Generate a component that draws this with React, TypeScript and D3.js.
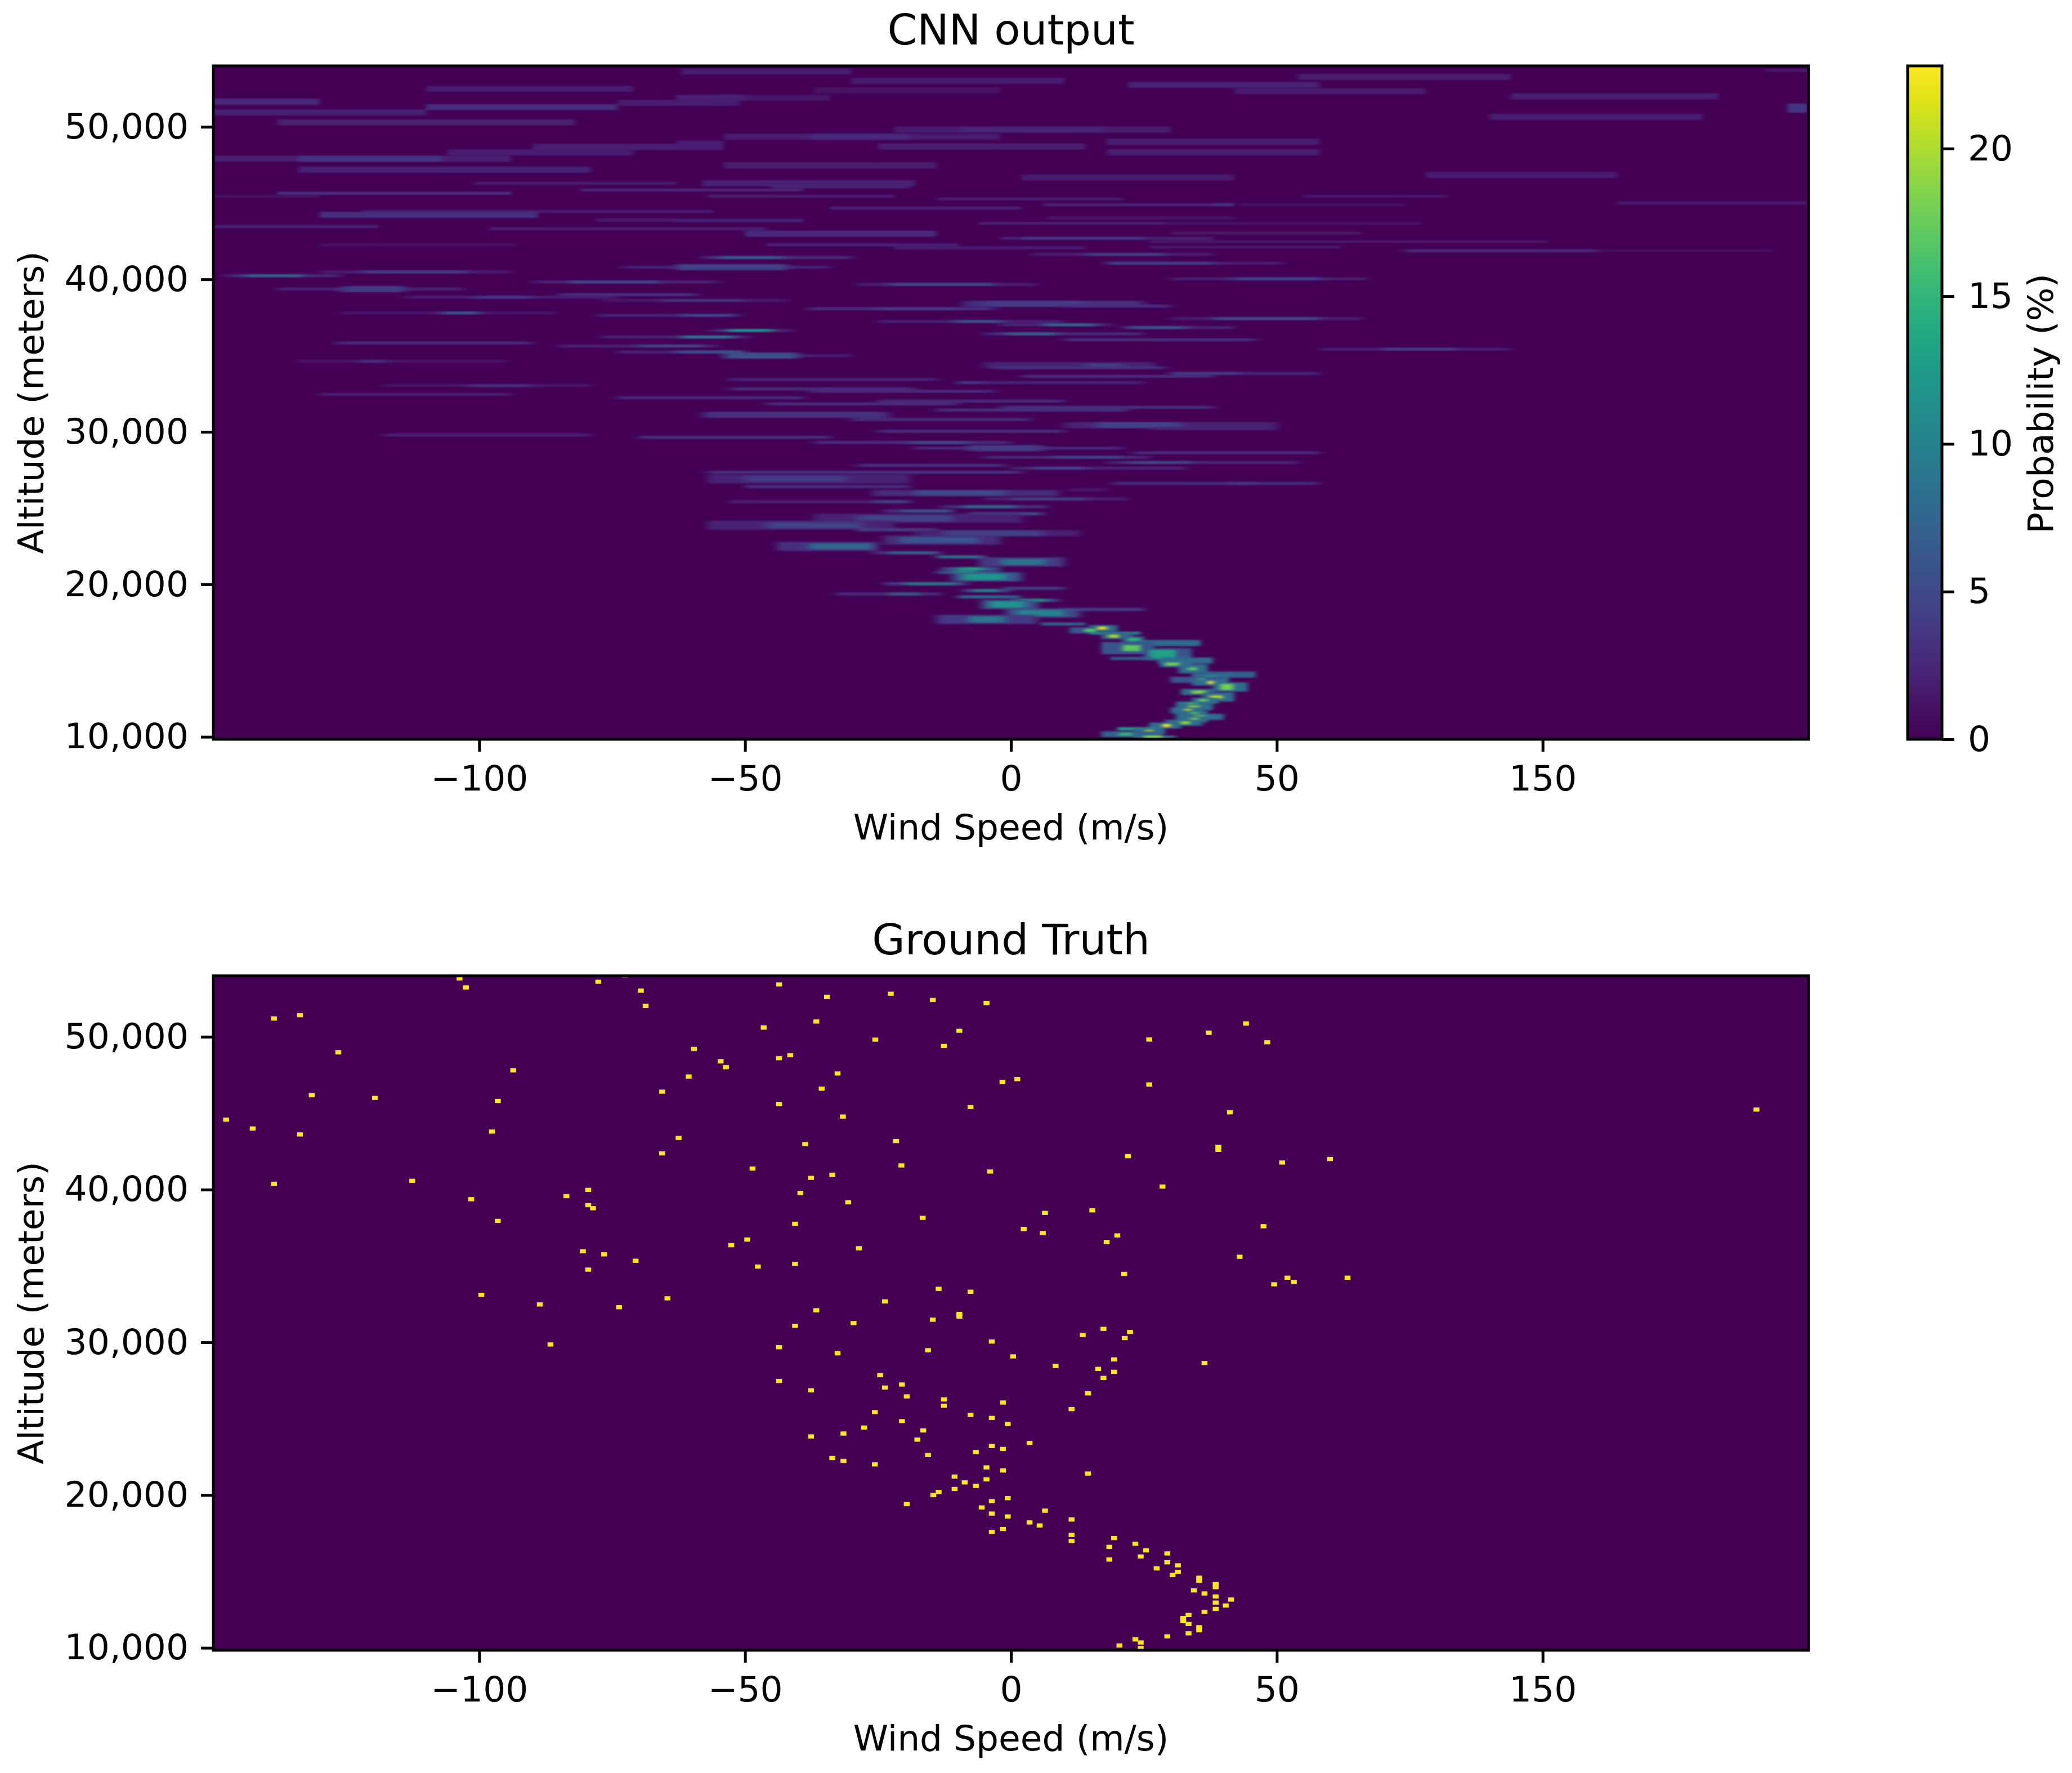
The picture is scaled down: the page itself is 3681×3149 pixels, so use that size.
import React, { useEffect, useRef } from 'react';
import * as d3 from 'd3';

// x positions run linearly from -150 to 150, the last label really does read 150
const speedTicks = [-100, -50, 0, 50, 100];
const speedTickLabels = ['−100', '−50', '0', '50', '150'];
const altitudeTicks = [10000, 20000, 30000, 40000, 50000];
const probabilityTicks = [0, 5, 10, 15, 20];

// CNN output: [altitude, from speed, to speed, probability %, rows]
const upperRuns: number[][] = [
  [53630, -62, -30, 1.7, 2], [53700, 142, 150, 1.7], [53280, 54, 94, 1.9, 2], [53020, -30, 10, 1.7, 2],
  [52750, 22, 58, 2.1, 2], [52500, -110, -71, 1.7, 2], [52400, -37, -2, 1.1, 2], [52340, 42, 78, 1.7, 2],
  [52000, -56, -37, 1.4], [52000, 94, 133, 2, 2], [51910, -63, -50, 2.1, 2], [51910, -50, -34, 1.3, 2],
  [51650, -150, -130, 2.5, 2], [51580, -74, -51, 1.7, 2], [51300, -110, -74, 2.8, 2], [51230, 146, 150, 3.5, 3],
  [50950, -150, -110, 2.1, 2], [50660, 90, 130, 1.9, 2], [50300, -138, -82, 2.1, 2], [49820, -22, 30, 1.7, 2],
  [49820, -9.6, 17.6, 2.3, 2], [49350, -54, -2, 1.7, 2], [49350, -37.7, -19, 2.7, 2], [49020, 18, 58, 2, 2],
  [48900, -63, -54, 1.7, 2], [48710, -25, 14, 1.9, 2], [48680, -90, -54, 1.9, 2], [48340, 18, 58, 1.9, 2],
  [48330, -106, -71, 1.7, 2], [47910, -150, -94, 1.9, 2], [47910, -134, -107, 3.3, 2], [47480, -54, -14, 1.9, 2],
  [47200, -134, -79, 2.1, 2], [46850, 78, 114, 1.7, 2], [46680, 2, 42, 1.7, 2], [46300, -101, -63, 1.7],
  [46300, -58, -18, 2.1, 2], [46070, -45, -19, 2.3], [45860, -81, -39, 2.2], [45650, -138, -94, 3],
  [45450, -57, -22, 1.9], [45450, 55, 82, 1.5], [45440, -150, -130, 1], [45270, -14, 21, 1.7], [45010, 114, 150, 1.7],
  [44900, 6, 42, 2.1], [44900, 38, 42, 3.5], [44900, 43, 74, 1.1], [44680, -34, 2, 2.1], [44450, -122, -56, 1.7],
  [44230, -130, -89, 3, 2], [44020, 7, 42, 1.4], [43880, -78, -39, 1.7], [43850, -63, -39, 2], [43670, -6, 29, 2],
  [43670, 29, 77, 1], [43460, -150, -119, 2.1], [43320, -98, -46, 2], [43030, 30, 66, 1.4], [43000, -50, -14, 2.7, 2],
  [42690, -2, 38, 2], [42690, 2, 25, 3.4], [42470, 26, 101, 1.3], [42260, -46, -10, 2.1], [42260, -130, -93, 1],
  [42120, 26, 62, 1.4], [42070, -22, 14, 1.7],
];

const middleRuns: number[][] = [
  [41870, 74, 110, 2.8], [41870, 110, 144, 0.8], [41640, 4, 38, 1.8], [41640, 14, 29, 4.2], [41430, -58, -30, 2.8],
  [41430, -55, -43, 6.5], [41060, 18, 51, 2], [41060, 18, 38, 4.2], [40800, -73, -34, 2.1], [40800, -63, -42, 4.5, 2],
  [40490, -130, -94, 1.7], [40490, -122, -102, 4], [40240, -148, -126, 2.5], [40240, -144, -133, 7],
  [40035, 30, 67, 2], [40035, 42, 58, 4.5], [39830, -90, -55, 2.1], [39830, -83, -66, 5], [39670, -29, 5, 1.8],
  [39670, -23, -3, 5], [39360, -138, -103, 2.1], [39360, -126, -114, 4, 2], [39000, -85, -59, 3.2],
  [38830, -114, -74, 1.7], [38830, -101, -90, 3.5], [38620, -77, -42, 1.4], [38620, -66, -50, 3.2],
  [38400, -9, 25, 2.8, 2], [38400, -5, 14, 4, 2], [38250, 10, 30, 3], [38070, -38, -3, 3], [38070, -25, -10, 3.8],
  [37800, -126, -86, 1.4], [37800, -107, -100, 6], [37640, -78, -51, 2.1], [37640, -62, -52, 4.5], [37430, 30, 66, 1.8],
  [37430, 38, 58, 5], [37240, -25, 10, 2.1], [37240, -10.5, -1.7, 5.5], [37020, -2, 19, 2.2], [37020, 6, 16, 7],
  [36840, 21, 42, 2.2], [36840, 22, 33, 5.5], [36650, -57, -41, 2.1], [36650, -53.5, -44.8, 11], [36430, -5, 25, 2.5],
  [36430, -1, 8.8, 6.5], [36220, -77, -49, 2.1], [36220, -62, -52, 8.5], [36040, 10, 46, 3], [35830, -127, -90, 2.5],
  [35630, -85, -55, 2.1], [35630, -70, -58, 4.5], [35420, 58, 94, 1.7], [35420, 70, 84, 4], [35240, -74, -50, 2.1],
  [35240, -63, -50, 5.5], [35000, -54, -30, 1.8], [35000, -54, -40, 5.5, 2], [34630, -134, -95, 1.4], [34630, -122, -118, 3.2],
  [34380, -5, 27, 2.2, 2], [34380, 14, 21, 4.2], [34200, -3.5, 29, 3.2], [33830, 30, 58, 2.2], [33830, 30, 43, 3.8],
  [33640, 2, 38, 2.8], [33430, -53, -14, 2.2], [33230, -10, 25, 2.2], [33230, -10, -6, 3.8], [33030, -118, -79, 1.4],
  [33030, -102, -90, 3.2], [32810, -53, -18, 2.8], [32660, -38, -3, 2.5], [32450, -130, -94, 2], [32230, -74, -39, 2.8],
  [32020, -25, 10, 2.8], [31830, -46, -10, 2.8], [31610, -2, 38, 3], [31430, -14, 22, 3], [31120, -58, -23, 3.2, 2],
  [30810, -30, 3.5, 2.8], [30440, 10, 50, 2.2, 2], [30440, 16, 32, 4.5, 2], [30210, 26, 50, 2.1], [30040, -25, 10, 3],
  [29790, -118, -79, 2.1], [29640, -70, -34, 3], [29300, -37, 0, 2.8], [29300, -19, -8, 5], [28930, -18, 21, 2.5],
  [28930, -8, 6, 4, 2], [28630, 23, 58, 2.8], [28330, -5, 26, 2.5], [28330, 8, 21, 4.5], [27990, 18, 54, 2.2],
  [27990, 22, 34, 4.5], [27800, -29, -1, 2.8], [27620, 0, 33, 2.2], [27620, 4, 14, 4.5], [27350, -57, -19, 3.2],
  [27350, -31, 2, 3.2],
];

const jetRuns: number[][] = [
  [26920, -57, -19, 2.2, 3], [26920, -50, -31, 4, 2], [26620, 19, 58, 2.8], [26620, 41, 46, 3.8], [26410, -50, -19, 3.2],
  [26200, 11, 18, 1.4], [25990, -26, 9, 2.8, 2], [25990, -18, -1, 5, 2], [25600, -5, 22, 2], [25600, 0, 14, 4.2],
  [25420, -53, -19, 2], [25420, -26, -19, 4.5], [25090, -13, 7, 3.2], [25090, -9, 1, 7.5], [24810, -24, -11, 2.8],
  [24810, -21, -11, 6], [24630, -8, 6, 5.5], [24330, -37, 2, 2.2, 3], [24330, -29, -11, 4.5, 2], [23880, -57, -22, 2.2, 3],
  [23880, -46, -28, 4.5, 2], [23580, -29, -14, 4.2], [23350, -18, 13, 2.1, 2], [23350, -13, 6, 4.2, 2], [22900, -24, -2, 2.8, 3],
  [22900, -21, -6, 6, 2], [22490, -44, -25, 3.2, 3], [22490, -38, -26, 7.5, 2], [22070, -26, -13, 3.2], [22070, -23, -14, 7],
  [21800, -14, -5, 8.5], [21470, -6, 10, 3.8, 3], [21470, -2, 6.5, 8.5, 2], [21020, -13, -2, 6], [21020, -10, -5, 13],
  [20790, -14, -2, 6], [20790, -11, -6.5, 13], [20490, -11, 2, 6, 3], [20490, -9, -1, 12, 2], [20040, -24, -8, 3.8],
  [20040, -20, -10, 9], [19740, -1.5, 10, 4.2], [19590, -9, 0, 5], [19590, -7, -2.4, 10], [19370, -33, -13, 2.8],
  [19370, -23, -17, 6.5], [19180, -10, 1.7, 7.5], [18950, 0, 9, 5], [18950, 2, 6.5, 13], [18680, -5.5, 5, 6, 3],
  [18680, -4, 2.5, 12, 2], [18350, 9, 25, 4.2], [18120, -1, 13, 5, 3], [18120, 1, 10, 10, 2], [17700, -14, 5, 3.8, 3],
  [17700, -8, -1, 9, 2],
];

const coreRuns: number[][] = [
  [17400, 5.7, 14, 7], [17130, 14.7, 20, 8, 2], [17130, 16.3, 18, 22], [16980, 11, 16, 6, 2],
  [16980, 13.8, 16, 17], [16800, 14.7, 24.4, 10], [16600, 17, 23, 7, 2], [16600, 18.3, 20.3, 20], [16380, 21, 25, 7, 2],
  [16380, 22, 24.4, 15], [16150, 24, 35.7, 8, 2], [15820, 17, 27, 6, 4], [15820, 21, 24.4, 17, 2], [15410, 25, 34, 6, 4],
  [15410, 26, 31, 13, 3], [15140, 18.7, 26.8, 7], [15000, 27.6, 38, 8, 2], [14770, 28, 34, 8, 2], [14770, 29, 31.7, 18],
  [14460, 31.5, 37, 8, 3], [14460, 33.3, 35, 17], [14080, 34, 46, 7, 2], [13900, 35, 41, 8, 2], [13900, 36.5, 38.6, 14],
  [13740, 30, 40, 6, 2], [13740, 35, 36.6, 15], [13560, 34, 41, 8, 2], [13560, 37, 38.2, 23], [13270, 38, 44.5, 8, 3],
  [13270, 39.4, 41.8, 18, 2], [12940, 32, 38, 8, 2], [12940, 34, 36.6, 19], [12610, 36, 42, 8, 3], [12610, 37.4, 39.8, 21],
  [12370, 34, 39, 8, 2], [12370, 35.3, 37, 18], [12120, 31, 37, 8, 2], [12120, 33, 35, 17], [11950, 31, 38, 8, 2],
  [11950, 33.3, 35.5, 19], [11730, 30, 36, 8, 2], [11730, 32.5, 34, 21], [11520, 31, 37, 8, 2], [11520, 33.7, 35.3, 17],
  [11310, 32, 40, 8, 2], [11310, 34.5, 36.5, 20], [11150, 31, 37, 8, 2], [11150, 33.7, 35.3, 18], [10920, 29, 36, 8, 2],
  [10920, 31.7, 33.7, 19], [10740, 26, 32, 8, 2], [10740, 28.5, 30, 23], [10530, 20, 27, 13], [10350, 23, 29, 8, 2],
  [10350, 25.2, 26.8, 22], [10170, 17, 28, 7, 2], [10170, 20.3, 22.8, 15], [9990, 23, 31, 8], [9990, 25, 28.5, 18],
];

// Ground truth, one cell per reading: [speed, altitude]
const truthUpper: number[][] = [
  [-103.7, 53825], [-102.5, 53230], [-77.6, 53610], [-72.6, 54020], [-69.6, 53030], [-68.7, 52030], [-43.6, 53430],
  [-34.6, 52620], [-22.6, 52820], [-14.7, 52410], [-4.6, 52210], [-138.6, 51200], [-133.7, 51420], [-36.6, 51010],
  [-46.5, 50610], [-9.7, 50400], [-25.5, 49820], [-12.6, 49410], [-126.5, 48990], [-59.6, 49210], [-41.5, 48800],
  [-43.6, 48600], [-54.6, 48400], [-53.6, 48010], [-93.6, 47810], [-60.6, 47400], [-32.6, 47600], [-35.6, 46610],
  [-65.6, 46410], [-131.5, 46190], [-119.6, 46000], [-96.5, 45800], [-43.6, 45600], [-7.6, 45400], [-31.6, 44780],
  [-147.6, 44580], [-142.6, 44000], [-133.7, 43610], [-97.6, 43800], [-62.5, 43380], [-38.7, 42980], [-21.6, 43180],
  [-65.6, 42370], [-48.6, 41380], [-20.6, 41580], [-3.9, 41180], [-37.6, 40770], [-33.6, 40970], [-112.6, 40570],
  [-138.6, 40380], [-79.5, 39980], [-39.6, 39780], [-83.6, 39570], [-101.5, 39370], [-30.6, 39170], [-79.5, 38980],
  [-78.6, 38780], [-16.6, 38150], [-96.5, 37950], [-40.6, 37760], [-49.6, 36730], [-52.6, 36360], [-28.6, 36160],
  [-80.5, 35960], [-76.5, 35760], [-70.6, 35340], [-79.5, 34760], [-47.6, 34960], [-40.6, 35140], [-13.6, 33500],
  [-7.6, 33310], [-99.6, 33110], [-64.6, 32880], [-88.6, 32480], [-73.7, 32300], [-23.7, 32680], [-36.6, 32100],
  [-9.7, 31860], [-9.7, 31680], [-29.6, 31260], [-14.7, 31480], [-40.6, 31080], [-86.6, 29860], [-43.6, 29680],
  [-32.6, 29280], [-15.6, 29480], [-3.6, 30050],
];

const truthRight: number[][] = [
  [140.2, 45240], [44.2, 50870], [37.2, 50270], [48.2, 49650], [26, 49830], [26, 46880], [41.2, 45060], [1.2, 47230],
  [-1.6, 47050], [39, 42800], [39, 42600], [51, 41770], [60, 42000], [22, 42190], [28.5, 40200], [6.4, 38470],
  [15.3, 38640], [2.4, 37420], [6, 37150], [20, 37000], [18, 36570], [47.5, 37600], [43, 35600], [21.3, 34480],
  [52, 34230], [53.2, 33960], [49.5, 33800], [63.3, 34230],
];

const truthLower: number[][] = [
  [17.4, 30880], [22.4, 30680], [13.5, 30480], [21.4, 30280], [0.4, 29080], [19.4, 28880], [36.4, 28650], [8.4, 28450],
  [16.4, 28260], [19.4, 28070], [17.4, 27670], [-24.6, 27850], [-43.6, 27470], [-20.5, 27240], [-37.6, 26860],
  [-23.7, 27040], [-19.6, 26460], [-12.6, 26260], [-12.6, 25850], [-1.5, 26060], [14.5, 26660], [11.4, 25630],
  [-25.6, 25430], [-7.6, 25250], [-3.6, 25050], [-20.5, 24840], [-0.6, 24650], [-27.6, 24420], [-16.5, 24230],
  [-31.5, 24030], [-37.6, 23840], [-17.6, 23630], [3.5, 23410], [-3.6, 23210], [-1.5, 23020], [-6.6, 22820],
  [-15.6, 22620], [-33.6, 22430], [-31.5, 22240], [-25.6, 22010], [-4.6, 21810], [-1.5, 21610], [14.5, 21410],
  [-10.6, 21210], [-4.6, 21030], [-8.7, 20830], [-6.6, 20600], [-10.6, 20400], [-13.6, 20200], [-14.6, 20000],
  [-0.6, 19800], [-3.6, 19600], [-19.6, 19410], [-5.5, 19190], [6.4, 18980], [-3.6, 18790], [-0.6, 18600],
  [11.4, 18400], [3.5, 18210], [5.4, 18010], [-1.5, 17780], [-3.6, 17590], [11.4, 17390], [11.4, 16990], [19.4, 17190],
  [23.4, 16810], [18.5, 16610], [25.4, 16380], [29.4, 16180], [24.4, 15980], [18.5, 15780], [29.4, 15600], [31.4, 15400],
  [27.4, 15200], [31.4, 14970], [30.4, 14770], [35.4, 14590], [35.4, 14390], [38.5, 14170], [38.5, 13970], [34.4, 13760],
  [36.4, 13560], [38.5, 13360], [41.4, 13160], [38.5, 12960], [40.4, 12770], [38.5, 12550], [36.4, 12350], [33.4, 12150],
  [32.4, 11950], [32.4, 11750], [33.4, 11560], [35.4, 11350], [35.4, 11150], [33.4, 10950], [29.4, 10750], [23.4, 10550],
  [24.4, 10350], [20.4, 10150], [24.4, 9980],
];

const truthCells = [...truthUpper, ...truthRight, ...truthLower];

const FONT = '"DejaVu Sans", sans-serif';

const App: React.FC = () => {
  const svgRef = useRef<SVGSVGElement | null>(null);

  useEffect(() => {
    const svg = d3.select(svgRef.current);
    svg.selectAll('*').remove();

    const left = 379;
    const right = 3213;
    const probMax = 22.8;

    const xScale = d3.scaleLinear().domain([-150, 150]).range([left, right]);
    const color = d3.scaleSequential(d3.interpolateViridis).domain([0, probMax]);

    const defs = svg.append('defs');
    const addBlur = (id: string, deviation: string) => {
      defs.append('filter').attr('id', id)
        .attr('filterUnits', 'userSpaceOnUse')
        .attr('x', 0).attr('y', 0).attr('width', 3681).attr('height', 3149)
        .attr('color-interpolation-filters', 'sRGB')
        .append('feGaussianBlur').attr('stdDeviation', deviation);
    };
    addBlur('blur-upper', '4 1.3');
    addBlur('blur-middle', '10 1.3');
    addBlur('blur-jet', '8 1.5');
    addBlur('blur-core', '4 1.4');

    const drawPanel = (top: number, bottom: number, title: string, id: string) => {
      const yScale = d3.scaleLinear().domain([9840, 54000]).range([bottom, top]);
      const g = svg.append('g');

      defs.append('clipPath').attr('id', id).append('rect')
        .attr('x', left).attr('y', top).attr('width', right - left).attr('height', bottom - top);

      g.append('rect')
        .attr('x', left).attr('y', top).attr('width', right - left).attr('height', bottom - top)
        .attr('fill', color(0));

      const body = g.append('g').attr('clip-path', `url(#${id})`);

      const xAxis = g.append('g')
        .attr('transform', `translate(0,${bottom})`)
        .call(d3.axisBottom(xScale)
          .tickValues(speedTicks)
          .tickFormat((_, i) => speedTickLabels[i])
          .tickSize(22).tickPadding(24));
      const yAxis = g.append('g')
        .attr('transform', `translate(${left},0)`)
        .call(d3.axisLeft(yScale)
          .tickValues(altitudeTicks)
          .tickFormat(d3.format(','))
          .tickSize(22).tickPadding(22));
      [xAxis, yAxis].forEach(axis => {
        axis.select('.domain').remove();
        axis.selectAll('line').attr('stroke', '#000').attr('stroke-width', 5);
        axis.selectAll('text').attr('font-family', FONT).attr('font-size', 63).attr('fill', '#000');
      });

      g.append('rect')
        .attr('x', left).attr('y', top).attr('width', right - left).attr('height', bottom - top)
        .attr('fill', 'none').attr('stroke', '#000').attr('stroke-width', 5);

      g.append('text')
        .attr('x', (left + right) / 2).attr('y', top - 65)
        .attr('dy', '0.36em')
        .attr('text-anchor', 'middle')
        .attr('font-family', FONT).attr('font-size', 75.6)
        .text(title);
      g.append('text')
        .attr('x', (left + right) / 2).attr('y', bottom + 155)
        .attr('dy', '0.36em')
        .attr('text-anchor', 'middle')
        .attr('font-family', FONT).attr('font-size', 63)
        .text('Wind Speed (m/s)');
      g.append('text')
        .attr('transform', `translate(54,${(top + bottom) / 2}) rotate(-90)`)
        .attr('dy', '0.36em')
        .attr('text-anchor', 'middle')
        .attr('font-family', FONT).attr('font-size', 63)
        .text('Altitude (meters)');

      return { body, yScale };
    };

    // top panel
    const cnn = drawPanel(117, 1313, 'CNN output', 'clip-cnn');
    const rowHeight = cnn.yScale(0) - cnn.yScale(200);
    const layers: [number[][], string][] = [
      [upperRuns, 'blur-upper'],
      [middleRuns, 'blur-middle'],
      [jetRuns, 'blur-jet'],
      [coreRuns, 'blur-core'],
    ];
    layers.forEach(([runs, filter]) => {
      cnn.body.append('g').attr('filter', `url(#${filter})`)
        .selectAll('rect')
        .data(runs)
        .enter()
        .append('rect')
        .attr('x', d => xScale(d[1]))
        .attr('width', d => xScale(d[2]) - xScale(d[1]))
        .attr('y', d => cnn.yScale(d[0]) - (rowHeight * (d[4] ?? 1)) / 2)
        .attr('height', d => rowHeight * (d[4] ?? 1))
        .attr('fill', d => color(d[3]));
    });

    // bottom panel
    const truth = drawPanel(1733, 2931, 'Ground Truth', 'clip-truth');
    const cellWidth = xScale(1) - xScale(0) + 1;
    const cellHeight = rowHeight + 2;
    truth.body.append('g')
      .selectAll('rect')
      .data(truthCells)
      .enter()
      .append('rect')
      .attr('x', d => xScale(d[0]) - cellWidth / 2)
      .attr('y', d => truth.yScale(d[1]) - cellHeight / 2)
      .attr('width', cellWidth)
      .attr('height', cellHeight)
      .attr('fill', color(probMax));

    // colorbar
    const barLeft = 3389;
    const barRight = 3450;
    const barScale = d3.scaleLinear().domain([0, probMax]).range([1313, 117]);
    const grad = defs.append('linearGradient').attr('id', 'viridis')
      .attr('x1', 0).attr('y1', 1).attr('x2', 0).attr('y2', 0);
    d3.range(0, 1.001, 0.05).forEach(t => {
      grad.append('stop').attr('offset', t).attr('stop-color', d3.interpolateViridis(t));
    });
    const bar = svg.append('g');
    bar.append('rect')
      .attr('x', barLeft).attr('y', 117).attr('width', barRight - barLeft).attr('height', 1196)
      .attr('fill', 'url(#viridis)');
    const barAxis = bar.append('g')
      .attr('transform', `translate(${barRight},0)`)
      .call(d3.axisRight(barScale).tickValues(probabilityTicks).tickSize(22).tickPadding(24));
    barAxis.select('.domain').remove();
    barAxis.selectAll('line').attr('stroke', '#000').attr('stroke-width', 5);
    barAxis.selectAll('text').attr('font-family', FONT).attr('font-size', 63).attr('fill', '#000');
    bar.append('rect')
      .attr('x', barLeft).attr('y', 117).attr('width', barRight - barLeft).attr('height', 1196)
      .attr('fill', 'none').attr('stroke', '#000').attr('stroke-width', 5);
    bar.append('text')
      .attr('transform', 'translate(3624,717) rotate(-90)')
      .attr('dy', '0.36em')
      .attr('text-anchor', 'middle')
      .attr('font-family', FONT).attr('font-size', 63)
      .text('Probability (%)');
  }, []);

  return (
    <svg
      ref={svgRef}
      width={3681}
      height={3149}
      style={{ position: 'absolute', top: 0, left: 0, background: '#fff' }}
    />
  );
};

export default App;
